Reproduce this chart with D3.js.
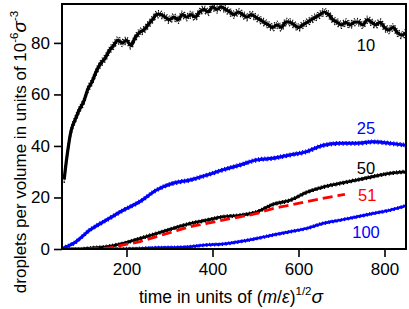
<!DOCTYPE html>
<html>
<head>
<meta charset="utf-8">
<script src="https://cdn.jsdelivr.net/npm/d3@7"></script>
<style>
  html, body { margin: 0; padding: 0; background: #fff; }
  svg { display: block; font-family: "Liberation Sans", Arial, sans-serif; }
</style>
</head>
<body>
<svg id="chart" width="409" height="309"></svg>
<script>
// ---- data ----
const xTicks = [200, 400, 600, 800];
const yTicks = [0, 20, 40, 60, 80];

const t10 = [55,60,65,70,75,80,85,90,100,110,120,130,140,150,160,170,180,190,200,210,220,230,240,250,260,270,280,290,300,310,320,330,340,350,360,370,380,390,400,410,420,430,440,450,460,470,480,490,500,510,520,530,540,550,560,570,580,590,600,610,620,630,640,650,660,670,680,690,700,710,720,730,740,750,760,770,780,790,800,810,820,830,840,850];
const v10 = [27,34,40,45,48,50,52,54,57,62,65,69,72,74,77,79,81,80,81,79,82,84,85,87,89,91,91,90,89,90,89,91,90,91,90,92,93,92,94,93,94,93,92,91,92,91,90,91,90,89,88,87,86,87,86,88,88,87,86,87,88,89,90,91,92,91,89,88,87,88,87,88,88,87,89,88,87,88,86,85,86,84,83,84];

const t25 = [50,77,115,154,193,231,270,308,348,387,424,464,503,540,580,619,656,697,736,773,813,850];
const v25 = [0.2,2.2,7.4,11.3,15.1,18.4,22.9,25.5,26.8,28.7,30.7,32.6,34.6,35.2,36.5,37.8,40.2,41.0,41.0,41.6,41.0,40.3];

const t50 = [100,115,154,193,231,270,308,348,387,424,464,503,540,580,619,656,697,736,773,813,850];
const v50 = [0,0.3,0.9,2.2,4.1,6.0,8.0,9.9,11.2,12.5,13.1,14.4,17.3,18.9,22.0,24.0,25.5,26.8,28.1,29.4,30.0];

const t51 = [77,154,193,231,270,308,348,387,424,464,503,540,580,619,656,708];
const v51 = [0,0.3,1.6,2.9,4.8,6.7,8.6,9.9,11.2,12.5,13.8,15.7,17.0,18.4,19.6,21.2];

const t100 = [50,150,231,270,308,348,387,424,464,503,540,580,619,656,697,736,773,813,850];
const v100 = [0,0,0.2,0.5,0.6,0.9,1.6,1.9,2.9,4.1,5.4,6.7,8.0,9.9,11.2,12.5,13.8,15.1,16.8];

const seriesLabels = [
  {text: "10", t: 757, v: 77, color: "#000000"},
  {text: "25", t: 757, v: 44.5, color: "#0000ff"},
  {text: "50", t: 757, v: 29, color: "#000000"},
  {text: "51", t: 760, v: 18.5, color: "#ff0000"},
  {text: "100", t: 757, v: 4.3, color: "#0000ff"}
];

// ---- layout ----
const L = 62, T = 4, R = 406, B = 249;
const svg = d3.select("#chart");
const x = d3.scaleLinear().domain([50, 850]).range([L, R]);
const y = d3.scaleLinear().domain([0, 95.1]).range([B, T]);
const zip = (a, b) => a.map((v, i) => [v, b[i]]);

svg.append("defs").append("clipPath").attr("id", "clip")
  .append("rect").attr("x", L).attr("y", T).attr("width", R - L).attr("height", B - T);
const plot = svg.append("g").attr("clip-path", "url(#clip)");

// textured noisy trace: core stroke + speckled fringes
function drawNoisy(ts, vs, color, core, fringe, curve) {
  const gen = d3.line().x(d => x(d[0])).y(d => y(d[1])).curve(curve || d3.curveMonotoneX);
  const data = zip(ts, vs);
  plot.append("path").datum(data).attr("d", gen)
    .attr("fill", "none").attr("stroke", color).attr("stroke-width", core);
  [[-fringe, "1,2.2"], [fringe, "1.3,2.6"], [-fringe * 0.6, "0.9,1.3"], [fringe * 0.6, "1,1.5"]].forEach(([dy, dash]) => {
    plot.append("path").datum(data).attr("d", gen)
      .attr("transform", `translate(0,${dy})`)
      .attr("fill", "none").attr("stroke", color).attr("stroke-width", 1.3)
      .attr("stroke-dasharray", dash);
  });
}

drawNoisy(t10, v10, "#000000", 3.2, 3.6, d3.curveCatmullRom);
drawNoisy(t25, v25, "#0000ff", 3.0, 1.8);
drawNoisy(t100, v100, "#0000ff", 2.5, 1.3);
drawNoisy(t50, v50, "#000000", 2.6, 1.5);

plot.append("path").datum(zip(t51, v51))
  .attr("d", d3.line().x(d => x(d[0])).y(d => y(d[1])).curve(d3.curveMonotoneX))
  .attr("fill", "none").attr("stroke", "#ff0000").attr("stroke-width", 2.8)
  .attr("stroke-dasharray", "10,5");

// series labels
svg.selectAll("text.lab").data(seriesLabels).enter().append("text")
  .attr("class", "lab")
  .attr("x", d => x(d.t)).attr("y", d => y(d.v))
  .attr("text-anchor", "middle")
  .attr("font-size", 16.5)
  .attr("fill", d => d.color)
  .text(d => d.text);

// frame
svg.append("rect").attr("x", L).attr("y", T).attr("width", R - L).attr("height", B - T)
  .attr("fill", "none").attr("stroke", "#000").attr("stroke-width", 2);

// axes
const xAxis = svg.append("g").attr("transform", `translate(0,${B})`)
  .call(d3.axisBottom(x).tickValues(xTicks).tickSize(8).tickPadding(6).tickFormat(d3.format("d")));
const yAxis = svg.append("g").attr("transform", `translate(${L},0)`)
  .call(d3.axisLeft(y).tickValues(yTicks).tickSize(8).tickPadding(4).tickFormat(d3.format("d")));
[xAxis, yAxis].forEach(a => {
  a.select(".domain").remove();
  a.selectAll("line").attr("stroke", "#000").attr("stroke-width", 1.6);
  a.selectAll("text").attr("font-size", 17).attr("fill", "#000")
    .attr("font-family", "'Liberation Sans', Arial, sans-serif");
});

// axis titles
const xt = svg.append("text").attr("x", 231).attr("y", 303)
  .attr("text-anchor", "middle").attr("font-size", 17.5).attr("fill", "#000");
xt.append("tspan").text("time in units of (");
xt.append("tspan").attr("font-style", "italic").text("m");
xt.append("tspan").text("/");
xt.append("tspan").attr("font-style", "italic").text("ε");
xt.append("tspan").text(")");
xt.append("tspan").attr("font-size", 11.5).attr("dy", -8).text("1/2");
xt.append("tspan").attr("font-style", "italic").attr("font-size", 19).attr("dy", 8).text("σ");

const yt = svg.append("text").attr("transform", "translate(26,152) rotate(-90)")
  .attr("text-anchor", "middle").attr("font-size", 17).attr("fill", "#000");
yt.append("tspan").text("droplets per volume in units of 10");
yt.append("tspan").attr("font-size", 11.5).attr("dy", -8).text("-6");
yt.append("tspan").attr("font-style", "italic").attr("font-size", 19).attr("dy", 8).text("σ");
yt.append("tspan").attr("font-size", 11.5).attr("dy", -8).text("-3");
</script>
</body>
</html>
